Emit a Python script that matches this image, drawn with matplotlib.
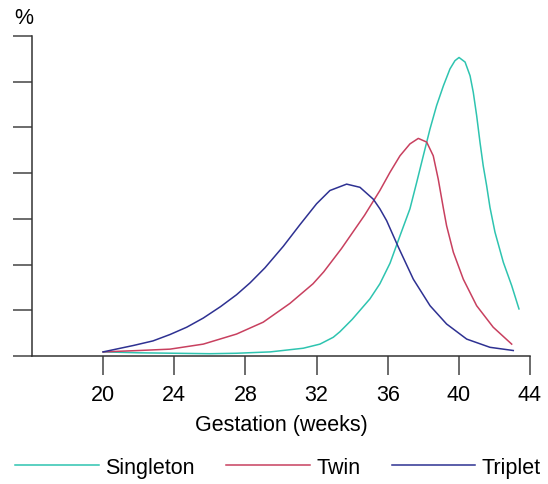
import matplotlib
matplotlib.use('Agg')
import matplotlib.pyplot as plt

plt.rcParams['font.family'] = ['Liberation Sans', 'DejaVu Sans']

# Gestation curves (weeks, %)
singleton_x = [20, 22, 24, 26, 27.5, 29.4, 31.25, 32.19, 32.94, 33.31, 34.0, 35.0,
               35.56, 36.13, 36.69, 37.25, 37.63, 38.0, 38.38, 38.75, 39.13, 39.5,
               39.78, 40.01, 40.35, 40.63, 40.81, 41.0, 41.19, 41.37, 41.56, 41.75,
               42.03, 42.5, 42.97, 43.38]
singleton_y = [0.09, 0.07, 0.06, 0.05, 0.06, 0.09, 0.17, 0.26, 0.41, 0.53, 0.80, 1.25,
               1.58, 2.03, 2.63, 3.22, 3.80, 4.38, 4.97, 5.48, 5.91, 6.28,
               6.46, 6.53, 6.43, 6.13, 5.77, 5.26, 4.67, 4.16, 3.73, 3.25,
               2.71, 2.05, 1.54, 1.03]

twin_x = [20, 22, 23.76, 25.63, 27.5, 29.0, 30.5, 31.8, 32.4, 33.4, 34.7, 35.56,
          36.13, 36.69, 37.25, 37.72, 38.19, 38.56, 38.84, 39.13, 39.31, 39.69,
          40.25, 41.0, 41.93, 42.97]
twin_y = [0.09, 0.12, 0.15, 0.26, 0.48, 0.74, 1.15, 1.58, 1.84, 2.35, 3.08, 3.62,
          4.02, 4.38, 4.64, 4.76, 4.68, 4.38, 3.87, 3.23, 2.85, 2.27,
          1.68, 1.10, 0.63, 0.26]

triplet_x = [20, 21.7, 22.8, 23.76, 24.7, 25.63, 26.6, 27.5, 28.26, 29.1, 30.13,
             31.06, 32.0, 32.75, 33.69, 34.44, 35.19, 35.56, 35.94, 36.6, 37.44,
             38.38, 39.31, 40.44, 41.75, 43.06]
triplet_y = [0.09, 0.23, 0.33, 0.47, 0.63, 0.83, 1.08, 1.34, 1.60, 1.93, 2.40,
             2.87, 3.33, 3.62, 3.76, 3.69, 3.43, 3.22, 2.96, 2.38, 1.68,
             1.10, 0.70, 0.37, 0.19, 0.12]

x_ticks = [20, 24, 28, 32, 36, 40, 44]
y_ticks = [0, 1, 2, 3, 4, 5, 6, 7]

fig = plt.figure(figsize=(5.48, 4.85), dpi=100)
ax = fig.add_axes([32 / 548, 128 / 485, (530 - 32) / 548, 320 / 485])

lw = 1.1
ax.plot(singleton_x, singleton_y, color='#2ec4b0', lw=lw, label='Singleton',
        solid_joinstyle='round')
ax.plot(twin_x, twin_y, color='#c8405f', lw=lw, label='Twin',
        solid_joinstyle='round')
ax.plot(triplet_x, triplet_y, color='#2e3192', lw=lw, label='Triplet',
        solid_joinstyle='round')

ax.set_xlim(16, 44)
ax.set_ylim(0, 7)
ax.set_xticks(x_ticks)
ax.set_yticks(y_ticks)
ax.set_yticklabels([])
ax.tick_params(axis='both', direction='out', length=13.5, width=1.1,
               color='#444444', labelsize=15.5, pad=7)

for side in ['top', 'right']:
    ax.spines[side].set_visible(False)
for side in ['left', 'bottom']:
    ax.spines[side].set_color('#333333')
    ax.spines[side].set_linewidth(1.1)

ax.set_xlabel('Gestation (weeks)', fontsize=15.5, labelpad=6)
fig.text(14 / 548, 1 - 19 / 485, '%', fontsize=15.5, va='center', ha='left')

fig.legend(loc='center', bbox_to_anchor=(0.507, 0.035), ncol=3, frameon=False,
           fontsize=15.5, handlelength=3.9, handletextpad=0.3, columnspacing=1.45)

fig.savefig('out.png', dpi=100)
